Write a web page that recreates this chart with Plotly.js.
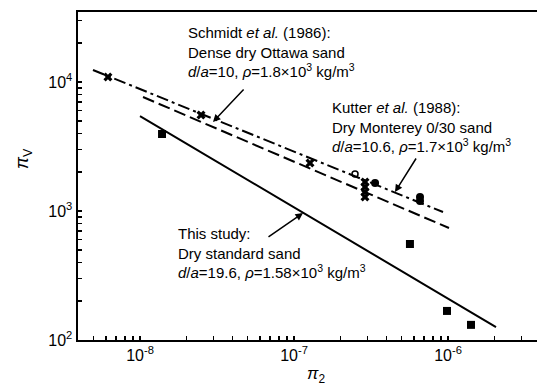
<!DOCTYPE html>
<html>
<head>
<meta charset="utf-8">
<script src="https://cdn.plot.ly/plotly-3.0.1.min.js"></script>
<style>html,body{margin:0;padding:0;overflow:hidden;background:#fff}</style>
</head>
<body>
<div id="chart" style="width:537px;height:389px"></div>
<script>
// ---- data ----
const studyX = [1.39e-8, 5.66e-7, 9.85e-7, 1.41e-6];
const studyY = [3954, 555, 168, 131];
const studyFitX = [1.0e-8, 2.05e-6];
const studyFitY = [5445, 126];

const schmidtX = [6.19e-9, 2.49e-8, 1.27e-7, 2.89e-7, 2.89e-7, 2.89e-7, 2.89e-7];
const schmidtY = [10940, 5546, 2355, 1679, 1535, 1402, 1284];
const dashDotX = [4.95e-9, 9.28e-7];
const dashDotY = [12400, 982];

const kutterOpenX = [2.49e-7];
const kutterOpenY = [1936];
const kutterX = [3.36e-7, 6.58e-7, 6.58e-7];
const kutterY = [1648, 1284, 1197];
const dashedX = [1.046e-8, 1.015e-6];
const dashedY = [7650, 738];

const xTickVals = [];
const xTickText = [];
[-9, -8, -7, -6, -5].forEach(e => {
  for (let m = 1; m <= 9; m++) {
    xTickVals.push(m * Math.pow(10, e));
    xTickText.push(m === 1 ? '10<sup>' + e + '</sup>' : '');
  }
});
const yTickVals = [];
const yTickText = [];
[2, 3, 4].forEach(e => {
  for (let m = 1; m <= 9; m++) {
    yTickVals.push(m * Math.pow(10, e));
    yTickText.push(m === 1 ? '10<sup>' + e + '</sup>' : '');
  }
});

const traces = [
  {x: dashDotX, y: dashDotY, mode: 'lines', line: {color: '#000', width: 2, dash: '12px,4px,3px,4px'}, hoverinfo: 'skip'},
  {x: dashedX, y: dashedY, mode: 'lines', line: {color: '#000', width: 2, dash: '12px,5px'}, hoverinfo: 'skip'},
  {x: studyFitX, y: studyFitY, mode: 'lines', line: {color: '#000', width: 2}, hoverinfo: 'skip'},
  {x: studyX, y: studyY, mode: 'markers', marker: {symbol: 'square', size: 8, color: '#000'}},
  {x: schmidtX, y: schmidtY, mode: 'markers', marker: {symbol: 'x', size: 8, color: '#000', line: {width: 0}}},
  {x: kutterOpenX, y: kutterOpenY, mode: 'markers', marker: {symbol: 'circle-open', size: 6, color: '#000', line: {width: 1.5}}},
  {x: kutterX, y: kutterY, mode: 'markers', marker: {symbol: 'circle', size: 8, color: '#000'}}
];

const txtFont = {family: 'Liberation Sans, Arial, sans-serif', size: 15, color: '#000'};

const layout = {
  width: 537, height: 389,
  margin: {l: 78, r: 0, t: 12, b: 49},
  paper_bgcolor: '#fff', plot_bgcolor: '#fff',
  showlegend: false,
  font: {family: 'Liberation Sans, Arial, sans-serif', size: 16, color: '#000'},
  xaxis: {
    type: 'log', range: [-8.4026, -5.4221],
    showgrid: false, zeroline: false,
    showline: true, linecolor: '#000', linewidth: 2, mirror: true,
    ticks: 'inside', ticklen: 4, tickwidth: 1.5, tickcolor: '#000',
    tickmode: 'array', tickvals: xTickVals, ticktext: xTickText,
    tickfont: {size: 16}
  },
  yaxis: {
    type: 'log', range: [2, 4.543],
    showgrid: false, zeroline: false,
    showline: true, linecolor: '#000', linewidth: 2.5, mirror: false,
    ticks: 'inside', ticklen: 4, tickwidth: 1.5, tickcolor: '#000',
    tickmode: 'array', tickvals: yTickVals, ticktext: yTickText,
    tickfont: {size: 16}
  },
  annotations: [
    {xref: 'paper', yref: 'paper', x: (316 - 78) / 459, y: (340 - 375) / 328, xanchor: 'center', yanchor: 'middle',
     text: '<i>π</i><sub>2</sub>', showarrow: false, font: {size: 17}},
    {xref: 'paper', yref: 'paper', x: (24 - 78) / 459, y: (340 - 159) / 328, xanchor: 'center', yanchor: 'middle',
     text: '<i>π</i><sub>V</sub>', textangle: -90, showarrow: false, font: {size: 18}},
    {xref: 'paper', yref: 'paper', x: (186 - 78) / 459, y: (340 - 22) / 328, xanchor: 'left', yanchor: 'top', align: 'left',
     text: 'Schmidt <i>et al.</i> (1986):<br>Dense dry Ottawa sand<br><i>d</i>/<i>a</i>=10, <i>ρ</i>=1.8×10<sup>3</sup> kg/m<sup>3</sup>',
     showarrow: false, font: txtFont},
    {xref: 'paper', yref: 'paper', x: (330 - 78) / 459, y: (340 - 97) / 328, xanchor: 'left', yanchor: 'top', align: 'left',
     text: 'Kutter <i>et al.</i> (1988):<br>Dry Monterey 0/30 sand<br><i>d</i>/<i>a</i>=10.6, <i>ρ</i>=1.7×10<sup>3</sup> kg/m<sup>3</sup>',
     showarrow: false, font: txtFont},
    {xref: 'paper', yref: 'paper', x: (176 - 78) / 459, y: (340 - 223) / 328, xanchor: 'left', yanchor: 'top', align: 'left',
     text: 'This study:<br>Dry standard sand<br><i>d</i>/<i>a</i>=19.6, <i>ρ</i>=1.58×10<sup>3</sup> kg/m<sup>3</sup>',
     showarrow: false, font: txtFont},
    // arrows (tip in axis log coords, tail offset in px)
    {x: -8 + (213 - 140) / 154, y: 2 + (340 - 122) / 129, ax: 32, ay: -34, text: '', showarrow: true,
     arrowhead: 2, arrowsize: 1, arrowwidth: 1.5, arrowcolor: '#000'},
    {x: -8 + (395 - 140) / 154, y: 2 + (340 - 192) / 129, ax: 22, ay: -35, text: '', showarrow: true,
     arrowhead: 2, arrowsize: 1, arrowwidth: 1.5, arrowcolor: '#000'},
    {x: -8 + (303 - 140) / 154, y: 2 + (340 - 213) / 129, ax: -36, ay: 25, text: '', showarrow: true,
     arrowhead: 2, arrowsize: 1, arrowwidth: 1.5, arrowcolor: '#000'}
  ]
};

Plotly.newPlot('chart', traces, layout, {displayModeBar: false, staticPlot: true});
</script>
</body>
</html>
